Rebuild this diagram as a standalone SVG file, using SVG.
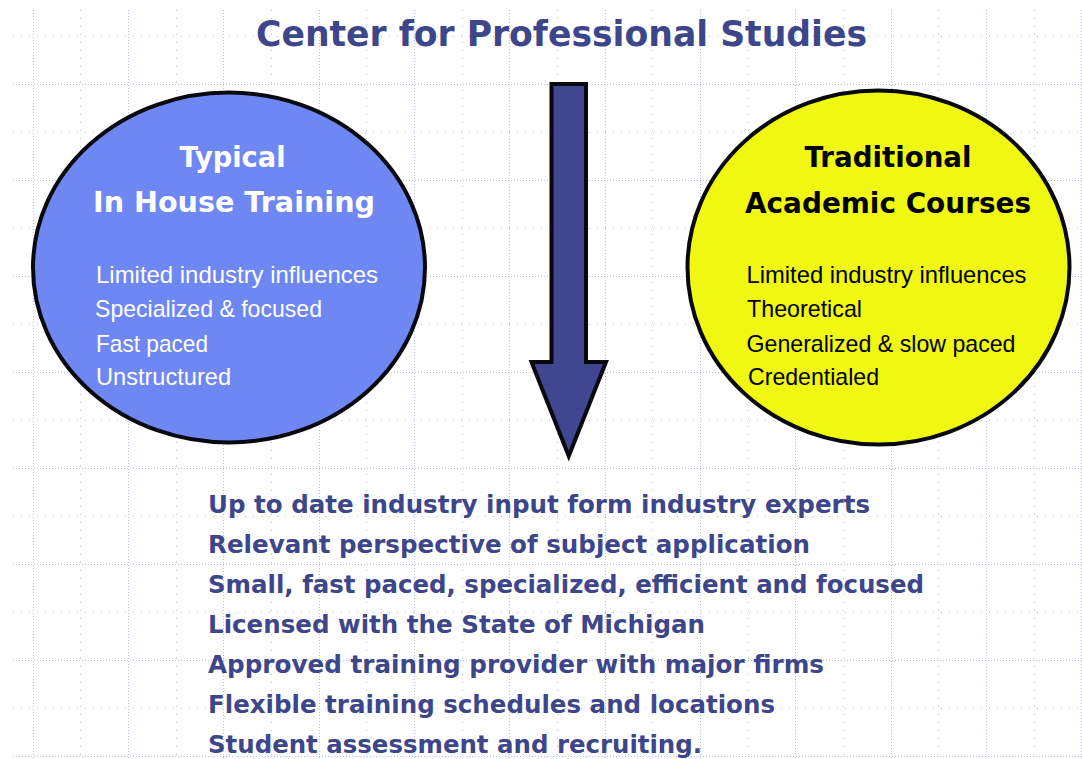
<svg xmlns="http://www.w3.org/2000/svg" width="1082" height="759" viewBox="0 0 1082 759">
  <style>
    .bg { fill: #ffffff; }
    .gd { stroke: #adbef4; stroke-width: 1; stroke-dasharray: 1 2; fill: none; }
    .gs { stroke: #adbef4; stroke-width: 1; stroke-dasharray: 1 7; fill: none; }
    .oval { stroke: #08080f; stroke-width: 4; }
    .title { font-family: "DejaVu Sans", Verdana, sans-serif; font-weight: bold; font-size: 36px; fill: #3d468a; }
    .head { font-family: "DejaVu Sans", Verdana, sans-serif; font-weight: bold; font-size: 28.5px; text-anchor: middle; }
    .body { font-family: "Liberation Sans", Arial, sans-serif; font-size: 24px; }
    .list { font-family: "DejaVu Sans", Verdana, sans-serif; font-weight: bold; font-size: 24.5px; fill: #3d468a; }
    .white { fill: #ffffff; }
    .black { fill: #000000; }
    .arrow { fill: #404690; stroke: #08080f; stroke-width: 4; stroke-linejoin: miter; }
  </style>

  <rect class="bg" x="0" y="0" width="1082" height="759"/>

  <!-- dotted background grid -->
  <g id="grid">
    <line class="gd" x1="33.5" y1="10" x2="33.5" y2="759"/>
    <line class="gs" x1="80.5" y1="10" x2="80.5" y2="759"/>
    <line class="gd" x1="128.5" y1="10" x2="128.5" y2="759"/>
    <line class="gs" x1="176.5" y1="10" x2="176.5" y2="759"/>
    <line class="gd" x1="223.5" y1="10" x2="223.5" y2="759"/>
    <line class="gs" x1="271.5" y1="10" x2="271.5" y2="759"/>
    <line class="gd" x1="319.5" y1="10" x2="319.5" y2="759"/>
    <line class="gs" x1="366.5" y1="10" x2="366.5" y2="759"/>
    <line class="gd" x1="414.5" y1="10" x2="414.5" y2="759"/>
    <line class="gs" x1="462.5" y1="10" x2="462.5" y2="759"/>
    <line class="gd" x1="509.5" y1="10" x2="509.5" y2="759"/>
    <line class="gs" x1="557.5" y1="10" x2="557.5" y2="759"/>
    <line class="gd" x1="605.5" y1="10" x2="605.5" y2="759"/>
    <line class="gs" x1="652.5" y1="10" x2="652.5" y2="759"/>
    <line class="gd" x1="700.5" y1="10" x2="700.5" y2="759"/>
    <line class="gs" x1="748.5" y1="10" x2="748.5" y2="759"/>
    <line class="gd" x1="795.5" y1="10" x2="795.5" y2="759"/>
    <line class="gs" x1="843.5" y1="10" x2="843.5" y2="759"/>
    <line class="gd" x1="891.5" y1="10" x2="891.5" y2="759"/>
    <line class="gs" x1="938.5" y1="10" x2="938.5" y2="759"/>
    <line class="gd" x1="986.5" y1="10" x2="986.5" y2="759"/>
    <line class="gs" x1="1034.5" y1="10" x2="1034.5" y2="759"/>
    <line class="gd" x1="1081.5" y1="10" x2="1081.5" y2="759"/>

    <line class="gs" x1="13" y1="36.5" x2="1082" y2="36.5"/>
    <line class="gd" x1="13" y1="84.5" x2="1082" y2="84.5"/>
    <line class="gs" x1="13" y1="132.5" x2="1082" y2="132.5"/>
    <line class="gd" x1="13" y1="180.5" x2="1082" y2="180.5"/>
    <line class="gs" x1="13" y1="228.5" x2="1082" y2="228.5"/>
    <line class="gd" x1="13" y1="276.5" x2="1082" y2="276.5"/>
    <line class="gs" x1="13" y1="324.5" x2="1082" y2="324.5"/>
    <line class="gd" x1="13" y1="372.5" x2="1082" y2="372.5"/>
    <line class="gs" x1="13" y1="420.5" x2="1082" y2="420.5"/>
    <line class="gd" x1="13" y1="468.5" x2="1082" y2="468.5"/>
    <line class="gs" x1="13" y1="516.5" x2="1082" y2="516.5"/>
    <line class="gd" x1="13" y1="564.5" x2="1082" y2="564.5"/>
    <line class="gs" x1="13" y1="612.5" x2="1082" y2="612.5"/>
    <line class="gd" x1="13" y1="660.5" x2="1082" y2="660.5"/>
    <line class="gs" x1="13" y1="708.5" x2="1082" y2="708.5"/>
    <line class="gd" x1="13" y1="756.5" x2="1082" y2="756.5"/>
  </g>

  <!-- heading -->
  <g id="title">
    <text class="title" x="256" y="46" textLength="611" lengthAdjust="spacingAndGlyphs">Center for Professional Studies</text>
  </g>

  <!-- left oval: in-house training -->
  <g id="node-inhouse">
    <ellipse class="oval" cx="229" cy="267.5" rx="196" ry="175" fill="#6e87f2"/>
    <text class="head white" x="232.5" y="167" textLength="106" lengthAdjust="spacingAndGlyphs">Typical</text>
    <text class="head white" x="234" y="212" textLength="282" lengthAdjust="spacingAndGlyphs">In House Training</text>
    <text class="body white" x="96" y="283" textLength="282" lengthAdjust="spacingAndGlyphs">Limited industry influences</text>
    <text class="body white" x="95" y="317" textLength="227" lengthAdjust="spacingAndGlyphs">Specialized &amp; focused</text>
    <text class="body white" x="96" y="351.5" textLength="112" lengthAdjust="spacingAndGlyphs">Fast paced</text>
    <text class="body white" x="96" y="385" textLength="135" lengthAdjust="spacingAndGlyphs">Unstructured</text>
  </g>

  <!-- right oval: academic courses -->
  <g id="node-academic">
    <ellipse class="oval" cx="878.5" cy="267.5" rx="191" ry="177" fill="#f0f812"/>
    <text class="head black" x="888" y="167" textLength="167" lengthAdjust="spacingAndGlyphs">Traditional</text>
    <text class="head black" x="888" y="212.5" textLength="286" lengthAdjust="spacingAndGlyphs">Academic Courses</text>
    <text class="body black" x="746.5" y="283" textLength="280" lengthAdjust="spacingAndGlyphs">Limited industry influences</text>
    <text class="body black" x="747" y="317" textLength="115" lengthAdjust="spacingAndGlyphs">Theoretical</text>
    <text class="body black" x="746.5" y="351.5" textLength="269" lengthAdjust="spacingAndGlyphs">Generalized &amp; slow paced</text>
    <text class="body black" x="748" y="385" textLength="131" lengthAdjust="spacingAndGlyphs">Credentialed</text>
  </g>

  <!-- downward block arrow -->
  <g id="connectors">
    <path class="arrow" d="M551.5,84 L586,84 L586,362 L606,362 L568.75,456 L531.5,362 L551.5,362 Z"/>
  </g>

  <!-- resulting benefits list -->
  <g id="node-benefits">
    <text class="list" x="208" y="512.5" textLength="662" lengthAdjust="spacingAndGlyphs">Up to date industry input form industry experts</text>
    <text class="list" x="208" y="552.5" textLength="602" lengthAdjust="spacingAndGlyphs">Relevant perspective of subject application</text>
    <text class="list" x="208" y="592.5" textLength="716" lengthAdjust="spacingAndGlyphs">Small, fast paced, specialized, efficient and focused</text>
    <text class="list" x="208" y="632.5" textLength="497" lengthAdjust="spacingAndGlyphs">Licensed with the State of Michigan</text>
    <text class="list" x="208" y="672.5" textLength="616" lengthAdjust="spacingAndGlyphs">Approved training provider with major firms</text>
    <text class="list" x="208" y="712.5" textLength="567" lengthAdjust="spacingAndGlyphs">Flexible training schedules and locations</text>
    <text class="list" x="208" y="752.5" textLength="494" lengthAdjust="spacingAndGlyphs">Student assessment and recruiting.</text>
  </g>
</svg>
